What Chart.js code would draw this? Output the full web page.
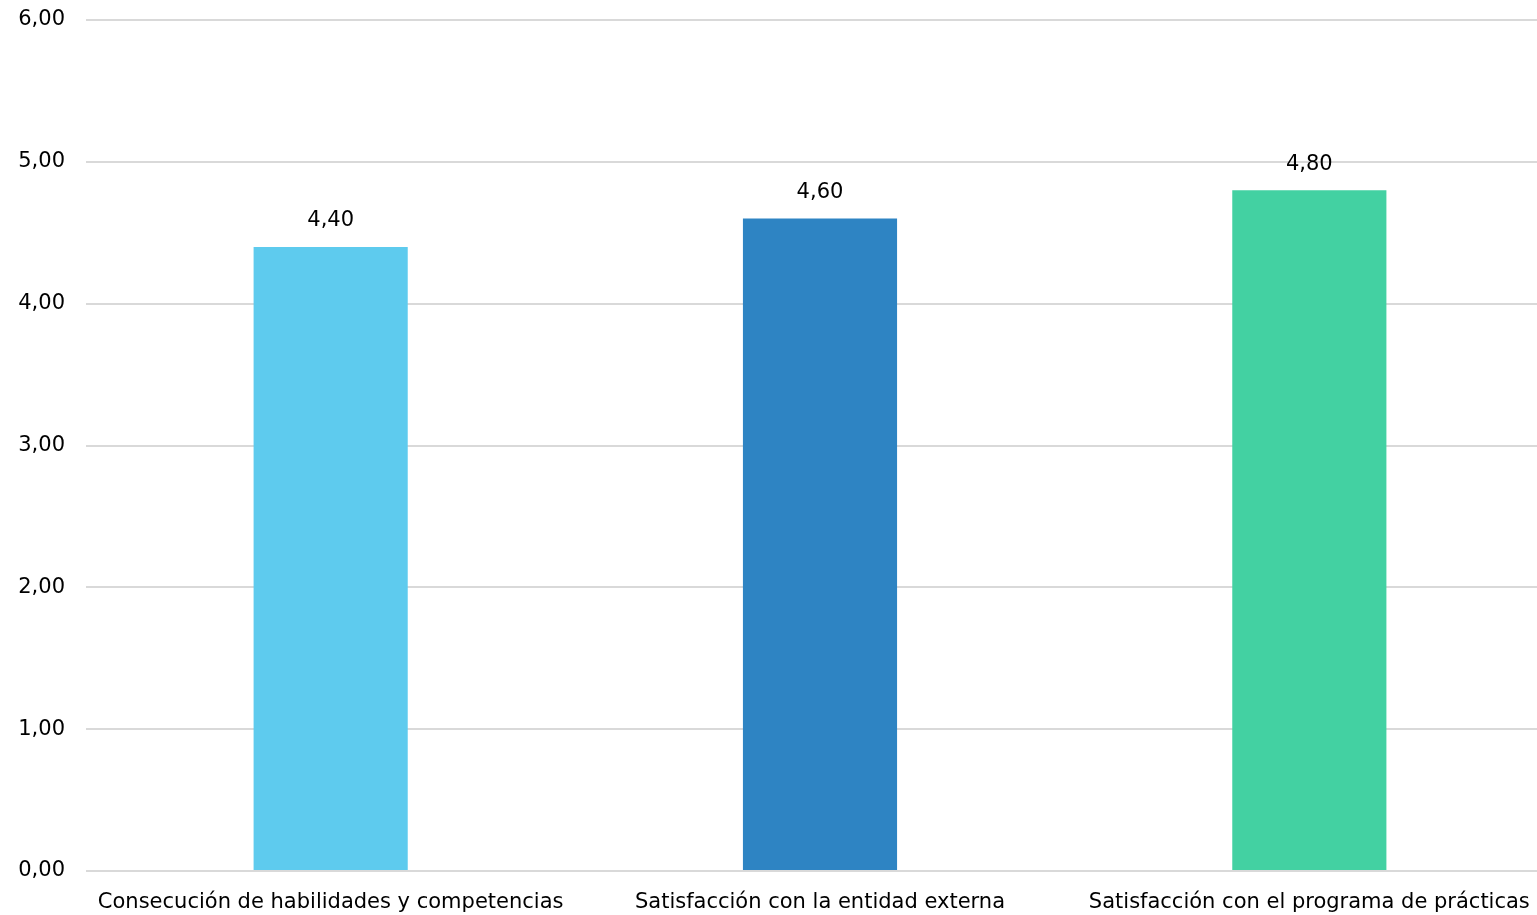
<!DOCTYPE html>
<html>
<head>
<meta charset="utf-8">
<script src="https://cdn.jsdelivr.net/npm/chart.js@4"></script>
<style>
    html, body { margin: 0; padding: 0; background: #fff; overflow: hidden; }
    #wrap { width: 1554px; height: 915px; }
</style>
</head>
<body>
<div id="wrap"><canvas id="chart"></canvas></div>
<script>
const categories = [
    'Consecución de habilidades y competencias',
    'Satisfacción con la entidad externa',
    'Satisfacción con el programa de prácticas'
];
const values = [4.4, 4.6, 4.8];
const barColors = ['#5ECBEE', '#2E84C3', '#43D1A2'];

Chart.defaults.font.family = 'DejaVu Sans';
Chart.defaults.font.size = 21;
Chart.defaults.color = '#000';

const fmt = v => v.toFixed(2).replace('.', ',');

const valueLabels = {
    id: 'valueLabels',
    afterDatasetsDraw(chart) {
        const ctx = chart.ctx;
        const meta = chart.getDatasetMeta(0);
        ctx.save();
        ctx.font = '21px "DejaVu Sans"';
        ctx.fillStyle = '#000';
        ctx.textAlign = 'center';
        ctx.textBaseline = 'middle';
        meta.data.forEach((bar, i) => {
            ctx.fillText(fmt(values[i]), bar.x, bar.y - 26);
        });
        ctx.restore();
    }
};

new Chart(
    document.getElementById('chart'),
    {
        type: 'bar',
        data: {
            labels: categories,
            datasets: [
                {
                    data: values,
                    backgroundColor: barColors,
                    categoryPercentage: 1,
                    barPercentage: 0.315
                }
            ]
        },
        options: {
            responsive: true,
            maintainAspectRatio: false,
            animation: false,
            layout: { padding: { top: 20, right: 0, left: 0, bottom: 0 } },
            plugins: {
                legend: { display: false },
                tooltip: { enabled: false }
            },
            scales: {
                x: {
                    grid: { display: false },
                    border: { display: false },
                    ticks: { padding: 11, maxRotation: 0, autoSkip: false },
                    afterFit(scale) { scale.height = 44; }
                },
                y: {
                    min: 0,
                    max: 6,
                    border: { display: false },
                    grid: { color: '#D9D9D9', lineWidth: 2, drawTicks: false },
                    ticks: { stepSize: 1, padding: 21, callback: v => fmt(v) },
                    afterFit(scale) {
                        scale.width = 86;
                        scale.paddingTop = 0;
                        scale.paddingBottom = 0;
                    }
                }
            }
        },
        plugins: [valueLabels]
    }
);
</script>
</body>
</html>
